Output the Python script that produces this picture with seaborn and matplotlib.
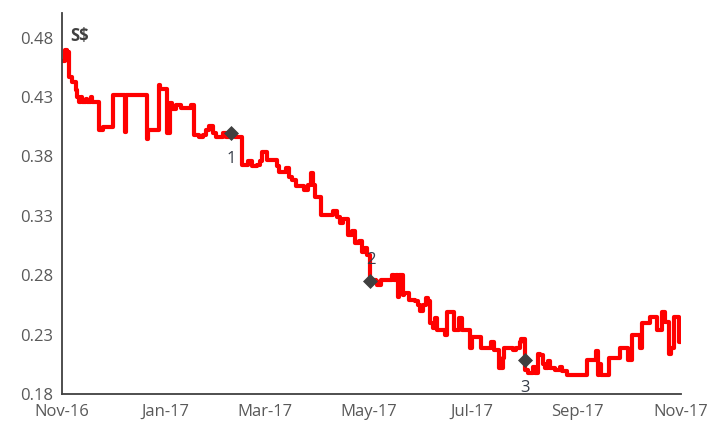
import pandas as pd
import matplotlib
matplotlib.use('Agg')
import matplotlib.pyplot as plt
import matplotlib.dates as mdates
import seaborn as sns

# Share price breakpoints (S$)
dates = [
    '2016-11-01', '2016-11-03', '2016-11-04', '2016-11-05', '2016-11-07', '2016-11-09',
    '2016-11-10', '2016-11-11', '2016-11-12', '2016-11-13', '2016-11-15', '2016-11-16',
    '2016-11-18', '2016-11-19', '2016-11-23', '2016-11-25', '2016-11-30', '2016-12-01',
    '2016-12-08', '2016-12-09', '2016-12-21', '2016-12-22', '2016-12-27', '2016-12-28',
    '2016-12-29', '2017-01-02', '2017-01-04', '2017-01-05', '2017-01-07', '2017-01-10',
    '2017-01-13', '2017-01-16', '2017-01-18', '2017-01-21', '2017-01-23', '2017-01-25',
    '2017-01-27', '2017-01-29', '2017-01-31', '2017-02-02', '2017-02-04', '2017-02-06',
    '2017-02-09', '2017-02-11', '2017-02-14', '2017-02-15', '2017-02-18', '2017-02-19',
    '2017-02-21', '2017-02-24', '2017-02-26', '2017-02-27', '2017-03-02', '2017-03-06',
    '2017-03-08', '2017-03-09', '2017-03-13', '2017-03-15', '2017-03-17', '2017-03-19',
    '2017-03-24', '2017-03-26', '2017-03-28', '2017-03-29', '2017-03-30', '2017-04-03',
    '2017-04-10', '2017-04-12', '2017-04-14', '2017-04-16', '2017-04-19', '2017-04-21',
    '2017-04-23', '2017-04-25', '2017-04-27', '2017-04-29', '2017-04-30', '2017-05-02',
    '2017-05-05', '2017-05-06', '2017-05-08', '2017-05-13', '2017-05-15', '2017-05-16',
    '2017-05-17', '2017-05-18', '2017-05-19', '2017-05-21', '2017-05-22', '2017-05-25',
    '2017-05-28', '2017-05-30', '2017-05-31', '2017-06-02', '2017-06-04', '2017-06-05',
    '2017-06-06', '2017-06-08', '2017-06-09', '2017-06-10', '2017-06-15', '2017-06-16',
    '2017-06-19', '2017-06-20', '2017-06-23', '2017-06-25', '2017-06-28', '2017-06-30',
    '2017-07-01', '2017-07-04', '2017-07-06', '2017-07-12', '2017-07-14', '2017-07-17',
    '2017-07-19', '2017-07-20', '2017-07-25', '2017-07-27', '2017-07-29', '2017-07-30',
    '2017-08-01', '2017-08-03', '2017-08-06', '2017-08-07', '2017-08-09', '2017-08-10',
    '2017-08-12', '2017-08-13', '2017-08-15', '2017-08-16', '2017-08-19', '2017-08-22',
    '2017-08-23', '2017-08-26', '2017-09-05', '2017-09-07', '2017-09-11', '2017-09-12',
    '2017-09-13', '2017-09-14', '2017-09-15', '2017-09-18', '2017-09-20', '2017-09-25',
    '2017-09-26', '2017-09-30', '2017-10-01', '2017-10-03', '2017-10-06', '2017-10-08',
    '2017-10-09', '2017-10-13', '2017-10-14', '2017-10-17', '2017-10-18', '2017-10-20',
    '2017-10-21', '2017-10-22', '2017-10-23', '2017-10-24', '2017-10-25', '2017-10-26',
    '2017-10-27', '2017-10-28', '2017-10-30', '2017-10-31', '2017-11-01',
]
prices = [
    0.460, 0.470, 0.468, 0.447, 0.443, 0.436,
    0.430, 0.426, 0.430, 0.426, 0.428, 0.426,
    0.430, 0.426, 0.402, 0.405, 0.405, 0.432,
    0.401, 0.432, 0.395, 0.402, 0.402, 0.440,
    0.437, 0.400, 0.425, 0.420, 0.423, 0.421,
    0.421, 0.423, 0.398, 0.396, 0.398, 0.402,
    0.406, 0.400, 0.396, 0.396, 0.400, 0.396,
    0.399, 0.396, 0.396, 0.373, 0.373, 0.376,
    0.372, 0.373, 0.376, 0.384, 0.377, 0.377,
    0.372, 0.367, 0.370, 0.363, 0.360, 0.355,
    0.352, 0.356, 0.366, 0.356, 0.346, 0.331,
    0.334, 0.329, 0.324, 0.327, 0.314, 0.317,
    0.307, 0.309, 0.300, 0.303, 0.297, 0.276,
    0.275, 0.272, 0.276, 0.276, 0.280, 0.276,
    0.280, 0.262, 0.280, 0.263, 0.265, 0.259,
    0.258, 0.255, 0.250, 0.255, 0.261, 0.258,
    0.240, 0.236, 0.244, 0.234, 0.230, 0.249,
    0.249, 0.234, 0.244, 0.234, 0.234, 0.219,
    0.228, 0.228, 0.219, 0.224, 0.217, 0.202,
    0.210, 0.219, 0.217, 0.219, 0.224, 0.226,
    0.200, 0.198, 0.203, 0.198, 0.214, 0.213,
    0.205, 0.202, 0.208, 0.202, 0.200, 0.203,
    0.199, 0.196, 0.196, 0.209, 0.209, 0.216,
    0.196, 0.205, 0.196, 0.196, 0.210, 0.210,
    0.219, 0.219, 0.209, 0.230, 0.230, 0.219,
    0.240, 0.240, 0.245, 0.245, 0.234, 0.234,
    0.249, 0.249, 0.241, 0.241, 0.214, 0.219,
    0.219, 0.245, 0.245, 0.224, 0.224,
]

# Annotated events
event_dates = ['2017-02-09', '2017-05-02', '2017-08-01']
event_prices = [0.400, 0.275, 0.209]
event_labels = ['1', '2', '3']
label_offsets = [-0.022, 0.018, -0.024]

df = pd.DataFrame({'date': pd.to_datetime(dates), 'price': prices})
ev = pd.DataFrame({'date': pd.to_datetime(event_dates), 'price': event_prices})

sns.set_style('white')
plt.rcParams['font.family'] = ['Open Sans', 'DejaVu Sans']

fig = plt.figure(figsize=(7.12, 4.26), dpi=100)
ax = fig.add_axes([0.087, 0.075, 0.869, 0.895])

sns.lineplot(data=df, x='date', y='price', ax=ax, color='#ff0000',
             linewidth=3.0, drawstyle='steps-post',
             solid_joinstyle='round', solid_capstyle='round')
sns.scatterplot(data=ev, x='date', y='price', ax=ax, marker='D', s=50,
                color='#404040', edgecolor='#404040', zorder=5)

for d, p, lab, off in zip(ev['date'], event_prices, event_labels, label_offsets):
    ax.text(d, p + off, lab, ha='center', va='center', fontsize=12,
            color='#353c48')

ax.text(0.013, 0.94, 'S$', transform=ax.transAxes, fontsize=12,
        fontweight='bold', color='#404040', ha='left', va='center')

ax.set_xlim(pd.Timestamp('2016-11-01'), pd.Timestamp('2017-11-01'))
ax.set_ylim(0.18, 0.501)
ax.set_yticks([0.18, 0.23, 0.28, 0.33, 0.38, 0.43, 0.48])
ax.yaxis.set_major_formatter(plt.FuncFormatter(lambda v, _: f'{v:.2f}'))
ax.xaxis.set_major_locator(mdates.MonthLocator(bymonth=[1, 3, 5, 7, 9, 11]))
ax.xaxis.set_major_formatter(mdates.DateFormatter('%b-%y'))

ax.set_xlabel('')
ax.set_ylabel('')
sns.despine(ax=ax)
for s in ['left', 'bottom']:
    ax.spines[s].set_color('#404040')
    ax.spines[s].set_linewidth(1.3)
ax.tick_params(axis='y', direction='in', length=4, width=1.2, color='#404040',
               labelsize=12, labelcolor='#595959', pad=6)
ax.tick_params(axis='x', direction='out', length=5, width=1.2, color='#404040',
               labelsize=12, labelcolor='#595959', pad=2)
ax.grid(False)

fig.savefig('out.png', dpi=100, facecolor='white')
